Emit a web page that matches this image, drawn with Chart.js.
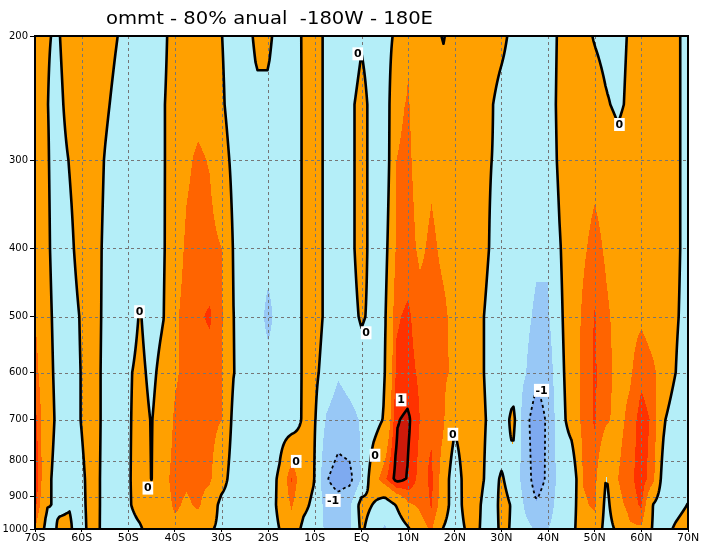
<!DOCTYPE html>
<html>
<head>
<meta charset="utf-8">
<script src="https://cdn.jsdelivr.net/npm/chart.js@4.4.0/dist/chart.umd.min.js"></script>
<style>
  html, body { margin: 0; padding: 0; background: #fff; }
</style>
</head>
<body>
<canvas id="chart" width="702" height="547"></canvas>
<script>
// titulo e eixos
const titleText = 'ommt - 80% anual  -180W - 180E';
const xTicks = [-70, -60, -50, -40, -30, -20, -10, 0, 10, 20, 30, 40, 50, 60, 70];
const xTickLabels = ['70S', '60S', '50S', '40S', '30S', '20S', '10S', 'EQ', '10N', '20N', '30N', '40N', '50N', '60N', '70N'];
const yTicks = [200, 300, 400, 500, 600, 700, 800, 900, 1000];

// grade: latitude (2.5 graus) x nivel de pressao
const lats = [-70, -67.5, -65, -62.5, -60, -57.5, -55, -52.5, -50, -47.5, -45, -42.5, -40, -37.5, -35, -32.5,
  -30, -27.5, -25, -22.5, -20, -17.5, -15, -12.5, -10, -7.5, -5, -2.5, 0, 2.5, 5, 7.5,
  10, 12.5, 15, 17.5, 20, 22.5, 25, 27.5, 30, 32.5, 35, 37.5, 40, 42.5, 45, 47.5,
  50, 52.5, 55, 57.5, 60, 62.5, 65, 67.5, 70];
const levels = [1000, 925, 850, 700, 600, 500, 400, 300, 250, 200];

const w1000 = [0.5, -0.15, 0.03, 0.03, -0.15, 0.225, -0.18, -0.3,
  -0.15, -0.05, 0.2, 0.3, 0.42, 0.35, 0.3, 0.05,
  -0.1, -0.3, -0.3, -0.3, -0.2, 0.01, 0.3, -0.1,
  -0.2, -0.6, -0.6, -0.55, 0.1, -0.3, -0.55, -0.3,
  -0.05, 0.35, 0.55, -0.02, -0.3, 0.05, 0.05, -0.3,
  0.1, -0.05, -0.35, -0.55, -0.5, -0.3, -0.2, 0.4,
  0.35, -0.2, 0.1, 0.45, 0.45, -0.05, -0.2, 0.1,
  0.3];
const w925 = [0.85, 0.02, -0.03, -0.01, -0.1, 0.2, -0.15, -0.3,
  -0.05, 0.15, 0.2, 0.35, 0.55, 0.45, 0.55, 0.3,
  -0.15, -0.2, -0.3, -0.3, -0.2, 0.1, 0.55, 0.1,
  -0.1, -0.7, -0.8, -0.55, 0.2, -0.02, -0.3, 0.02,
  0.45, 0.55, 0.78, 0.3, -0.3, 0.2, 0.1, -0.35,
  0.15, -0.05, -0.55, -0.95, -0.7, -0.3, -0.3, 0.45,
  0.55, -0.15, 0.4, 0.6, 0.8, -0.02, -0.3, -0.2,
  0.02];
const w850 = [1.02, 0.1, -0.15, -0.2, -0.08, 0.2, -0.15, -0.3,
  -0.05, 0.2, -0.01, 0.4, 0.6, 0.55, 0.6, 0.55,
  0.2, -0.2, -0.3, -0.3, -0.2, 0.08, 0.78, 0.2,
  0.005, -0.97, -1.2, -1.15, -0.45, 0.3, 0.7, 1.1,
  0.98, 0.65, 0.8, 0.35, -0.35, 0.25, 0.2, -0.2,
  0.05, -0.2, -0.7, -1.25, -0.9, -0.3, -0.4, 0.52,
  0.6, -0.03, 0.5, 0.68, 0.88, 0.6, -0.3, -0.3,
  -0.2];
const w700 = [0.85, 0.2, -0.1, -0.2, 0.02, 0.25, -0.15, -0.3,
  -0.05, 0.15, -0.02, 0.25, 0.55, 0.62, 0.62, 0.6,
  0.5, -0.1, -0.3, -0.3, -0.3, -0.2, -0.25, 0.05,
  0.03, -0.55, -0.75, -0.65, -0.45, -0.2, 0.05, 0.98,
  1.05, 0.75, 0.7, 0.55, 0.1, 0.3, 0.2, -0.1,
  -0.3, 0.15, -0.8, -1.3, -0.9, -0.2, 0.2, 0.6,
  0.78, 0.55, 0.4, 0.58, 0.87, 0.7, 0.02, -0.3,
  -0.3];
const w600 = [0.65, 0.15, -0.12, -0.2, 0.02, 0.25, -0.15, -0.3,
  -0.05, 0.1, -0.1, 0.15, 0.45, 0.6, 0.65, 0.65,
  0.5, 0.02, -0.2, -0.3, -0.35, -0.3, -0.3, 0.05,
  0.1, -0.2, -0.45, -0.3, -0.2, -0.3, -0.02, 0.8,
  0.85, 0.7, 0.62, 0.55, 0.45, 0.35, 0.15, -0.15,
  -0.3, -0.3, -0.45, -0.85, -0.75, -0.15, 0.25, 0.6,
  0.78, 0.6, 0.4, 0.45, 0.68, 0.55, 0.35, -0.02,
  -0.3];
const w500 = [0.5, 0.12, -0.15, -0.2, 0.05, 0.25, -0.12, -0.3,
  -0.2, 0.03, -0.2, -0.02, 0.45, 0.6, 0.72, 0.78,
  0.55, 0.01, -0.2, -0.3, -0.62, -0.3, -0.3, 0.05,
  0.2, -0.1, -0.3, -0.15, 0.05, -0.1, -0.05, 0.72,
  0.8, 0.6, 0.6, 0.55, 0.42, 0.4, 0.15, -0.15,
  -0.3, -0.3, -0.35, -0.6, -0.55, -0.1, 0.3, 0.55,
  0.77, 0.55, 0.4, 0.4, 0.45, 0.35, 0.3, 0.05,
  -0.2];
const w400 = [0.35, 0.08, -0.2, -0.1, 0.2, 0.25, -0.1, -0.3,
  -0.3, -0.3, -0.3, -0.05, 0.35, 0.55, 0.62, 0.6,
  0.5, -0.02, -0.3, -0.3, -0.35, -0.3, -0.3, 0.05,
  0.2, -0.1, -0.3, -0.1, 0.15, -0.15, -0.15, 0.55,
  0.6, 0.45, 0.55, 0.45, 0.4, 0.45, 0.3, -0.02,
  -0.3, -0.3, -0.3, -0.4, -0.45, -0.03, 0.3, 0.45,
  0.6, 0.45, 0.35, 0.35, 0.35, 0.35, 0.3, 0.1,
  -0.2];
const w300 = [0.3, 0.05, -0.2, 0.03, 0.25, 0.3, -0.03, -0.3,
  -0.3, -0.3, -0.3, -0.05, 0.3, 0.45, 0.55, 0.48,
  0.2, -0.1, -0.3, -0.3, -0.3, -0.3, -0.3, 0.05,
  0.2, -0.1, -0.3, -0.1, 0.15, -0.15, -0.3, 0.5,
  0.55, 0.38, 0.45, 0.38, 0.38, 0.38, 0.3, 0.02,
  -0.1, -0.3, -0.3, -0.3, -0.3, 0.1, 0.3, 0.35,
  0.4, 0.35, 0.2, 0.3, 0.3, 0.3, 0.3, 0.1,
  -0.2];
const w250 = [0.3, 0.02, -0.15, 0.2, 0.3, 0.3, 0.1, -0.15,
  -0.3, -0.3, -0.3, -0.05, 0.3, 0.4, 0.4, 0.35,
  0.07, -0.2, -0.3, -0.1, -0.1, -0.3, -0.3, 0.05,
  0.2, -0.1, -0.3, -0.1, 0.15, -0.15, -0.3, 0.45,
  0.52, 0.35, 0.35, 0.3, 0.35, 0.35, 0.3, 0.08,
  -0.2, -0.3, -0.3, -0.3, -0.3, 0.15, 0.3, 0.3,
  0.3, 0.05, -0.1, 0.1, 0.3, 0.3, 0.3, 0.1,
  -0.2];
const w200 = [0.3, 0.03, -0.05, 0.3, 0.3, 0.3, 0.25, 0.02,
  -0.2, -0.3, -0.3, -0.15, 0.3, 0.35, 0.35, 0.3,
  0.01, -0.2, -0.2, 0.1, 0.1, -0.2, -0.25, 0.05,
  0.2, -0.1, -0.3, -0.3, -0.05, -0.2, -0.2, 0.1,
  0.48, 0.3, 0.3, -0.05, 0.3, 0.3, 0.3, 0.3,
  0.15, -0.15, -0.3, -0.3, -0.3, 0.1, 0.3, 0.2,
  -0.05, -0.2, -0.15, 0.05, 0.3, 0.3, 0.3, 0.1,
  -0.2];
const rows = [w1000, w925, w850, w700, w600, w500, w400, w300, w250, w200];

// sombreamento e contornos
const shadeLevels = [-1, -0.5, 0, 0.5, 0.75, 1];
const shadeColors = ['#7eaaf0', '#98c8f6', '#b4eef8', '#ffa000', '#ff6400', '#ff3200', '#cd1a0a'];
const contourLevels = [-1, 0, 1];

// rotulos dos contornos
const labelText = ['0', '0', '0', '-1', '0', '0', '0', '1', '0', '-1', '0'];
const labelLat = [-47.6, -45.8, -14, -6.1, -0.8, 1.0, 2.9, 8.5, 19.6, 38.6, 55.3];
const labelP = [492, 875, 802, 911, 212, 527, 786, 656, 734, 636, 267];

function hexRgb(h) {
  return [parseInt(h.slice(1, 3), 16), parseInt(h.slice(3, 5), 16), parseInt(h.slice(5, 7), 16)];
}

function buildField(chart) {
  const { chartArea: a, scales: { x, y } } = chart;
  const W = Math.round(a.right - a.left), H = Math.round(a.bottom - a.top);
  const cx = lats.map(v => x.getPixelForValue(v) - a.left);
  const ry = levels.map(v => y.getPixelForValue(v) - a.top);
  const colIdx = new Int32Array(W), colT = new Float32Array(W);
  for (let i = 0, k = 0; i < W; i++) {
    const px = i + 0.5;
    while (k < cx.length - 2 && px > cx[k + 1]) k++;
    colIdx[i] = k;
    colT[i] = Math.min(1, Math.max(0, (px - cx[k]) / (cx[k + 1] - cx[k])));
  }
  const rowIdx = new Int32Array(H), rowT = new Float32Array(H);
  for (let j = 0; j < H; j++) {
    const py = j + 0.5;
    let k = 0;
    while (k < ry.length - 2 && py < ry[k + 1]) k++;
    rowIdx[j] = k;
    rowT[j] = Math.min(1, Math.max(0, (ry[k] - py) / (ry[k] - ry[k + 1])));
  }
  const F = new Float32Array(W * H);
  for (let j = 0; j < H; j++) {
    const r0 = rows[rowIdx[j]], r1 = rows[rowIdx[j] + 1], s = rowT[j];
    for (let i = 0; i < W; i++) {
      const k = colIdx[i], t = colT[i];
      const v0 = r0[k] + (r0[k + 1] - r0[k]) * t;
      const v1 = r1[k] + (r1[k + 1] - r1[k]) * t;
      F[j * W + i] = v0 + (v1 - v0) * s;
    }
  }
  return { F, W, H };
}

function contourChains(F, W, H, step, level) {
  const nx = Math.floor((W - 1) / step), ny = Math.floor((H - 1) / step);
  const val = (i, j) => F[(j * step) * W + i * step];
  const pts = new Map(), adj = new Map();
  const above = v => v > level;
  function edge(key, x0, y0, x1, y1, v0, v1) {
    if (!pts.has(key)) {
      const t = (level - v0) / (v1 - v0);
      pts.set(key, [x0 + (x1 - x0) * t, y0 + (y1 - y0) * t]);
    }
    return key;
  }
  function link(k1, k2) {
    if (!adj.has(k1)) adj.set(k1, []);
    if (!adj.has(k2)) adj.set(k2, []);
    adj.get(k1).push(k2);
    adj.get(k2).push(k1);
  }
  for (let j = 0; j < ny; j++) {
    for (let i = 0; i < nx; i++) {
      const a = val(i, j), b = val(i + 1, j), c = val(i + 1, j + 1), d = val(i, j + 1);
      const x0 = i * step, x1 = (i + 1) * step, y0 = j * step, y1 = (j + 1) * step;
      const crossing = [];
      let top = null, right = null, bottom = null, left = null;
      if (above(a) !== above(b)) { top = edge('h' + i + '_' + j, x0, y0, x1, y0, a, b); crossing.push(top); }
      if (above(b) !== above(c)) { right = edge('v' + (i + 1) + '_' + j, x1, y0, x1, y1, b, c); crossing.push(right); }
      if (above(d) !== above(c)) { bottom = edge('h' + i + '_' + (j + 1), x0, y1, x1, y1, d, c); crossing.push(bottom); }
      if (above(a) !== above(d)) { left = edge('v' + i + '_' + j, x0, y0, x0, y1, a, d); crossing.push(left); }
      if (crossing.length === 2) {
        link(crossing[0], crossing[1]);
      } else if (crossing.length === 4) {
        const center = (a + b + c + d) / 4;
        if (above(center) === above(a)) { link(top, right); link(bottom, left); }
        else { link(left, top); link(right, bottom); }
      }
    }
  }
  const used = new Set(), chains = [];
  const walk = start => {
    const chain = [start];
    used.add(start);
    let cur = start;
    for (;;) {
      const nb = adj.get(cur).find(k => !used.has(k));
      if (!nb) break;
      used.add(nb);
      chain.push(nb);
      cur = nb;
    }
    if (chain.length > 2 && adj.get(cur).includes(start)) chain.push(start);
    return chain.map(k => pts.get(k));
  };
  for (const [k, nbs] of adj) if (nbs.length === 1 && !used.has(k)) chains.push(walk(k));
  for (const k of adj.keys()) if (!used.has(k)) chains.push(walk(k));
  return chains;
}

const fieldPlugin = {
  id: 'field',
  beforeDatasetsDraw(chart) {
    const { ctx, chartArea: a, scales: { x, y } } = chart;
    const { F, W, H } = buildField(chart);

    // sombreado
    const off = document.createElement('canvas');
    off.width = W; off.height = H;
    const octx = off.getContext('2d');
    const img = octx.createImageData(W, H);
    const rgb = shadeColors.map(hexRgb);
    for (let p = 0; p < W * H; p++) {
      const v = F[p];
      let c = 0;
      while (c < shadeLevels.length && v > shadeLevels[c]) c++;
      img.data[p * 4] = rgb[c][0];
      img.data[p * 4 + 1] = rgb[c][1];
      img.data[p * 4 + 2] = rgb[c][2];
      img.data[p * 4 + 3] = 255;
    }
    octx.putImageData(img, 0, 0);
    ctx.save();
    ctx.drawImage(off, a.left, a.top);

    // grade pontilhada
    ctx.lineWidth = 1;
    ctx.strokeStyle = '#767676';
    ctx.setLineDash([3, 3]);
    ctx.beginPath();
    xTicks.slice(1, -1).forEach(v => {
      const px = Math.round(x.getPixelForValue(v)) + 0.5;
      ctx.moveTo(px, a.top); ctx.lineTo(px, a.bottom);
    });
    yTicks.slice(1, -1).forEach(v => {
      const py = Math.round(y.getPixelForValue(v)) + 0.5;
      ctx.moveTo(a.left, py); ctx.lineTo(a.right, py);
    });
    ctx.stroke();

    // contornos
    ctx.beginPath();
    ctx.rect(a.left, a.top, a.right - a.left, a.bottom - a.top);
    ctx.clip();
    ctx.lineJoin = 'round';
    ctx.strokeStyle = '#000';
    contourLevels.forEach(lv => {
      const chains = contourChains(F, W, H, 2, lv);
      if (lv < 0) { ctx.setLineDash([3, 3]); ctx.lineWidth = 1.8; ctx.lineCap = 'butt'; }
      else { ctx.setLineDash([]); ctx.lineWidth = 2.6; ctx.lineCap = 'round'; }
      chains.forEach(ch => {
        ctx.beginPath();
        ch.forEach((pt, i) => {
          const px = a.left + pt[0] + 0.5, py = a.top + pt[1] + 0.5;
          if (i === 0) ctx.moveTo(px, py); else ctx.lineTo(px, py);
        });
        ctx.stroke();
      });
    });
    ctx.setLineDash([]);

    // rotulos
    ctx.font = 'bold 11px "DejaVu Sans"';
    ctx.textAlign = 'center';
    ctx.textBaseline = 'middle';
    labelText.forEach((txt, i) => {
      const px = x.getPixelForValue(labelLat[i]);
      const py = y.getPixelForValue(labelP[i]);
      const w = ctx.measureText(txt).width + 3;
      ctx.fillStyle = '#fff';
      ctx.fillRect(px - w / 2, py - 6.5, w, 13);
      ctx.fillStyle = '#000';
      ctx.fillText(txt, px, py + 0.5);
    });
    ctx.restore();

    // moldura
    ctx.save();
    ctx.lineWidth = 2;
    ctx.strokeStyle = '#000';
    ctx.strokeRect(a.left, a.top, a.right - a.left, a.bottom - a.top);
    ctx.restore();
  },
  afterDraw(chart) {
    const ctx = chart.ctx;
    ctx.save();
    ctx.font = '17px "DejaVu Sans"';
    ctx.fillStyle = '#000';
    ctx.textBaseline = 'alphabetic';
    const w = ctx.measureText(titleText).width;
    ctx.translate(106, 24);
    ctx.scale(327 / w, 1);
    ctx.fillText(titleText, 0, 0);
    ctx.restore();
  }
};

new Chart(document.getElementById('chart'), {
  type: 'scatter',
  data: { datasets: [] },
  options: {
    responsive: false,
    animation: false,
    layout: { padding: { top: 36, right: 14, left: 0, bottom: 0 } },
    plugins: { legend: { display: false }, tooltip: { enabled: false }, title: { display: false } },
    scales: {
      x: {
        type: 'linear',
        min: -70,
        max: 70,
        afterBuildTicks: s => { s.ticks = xTicks.map(v => ({ value: v })); },
        afterFit: s => { s.height = 18; },
        border: { display: false },
        grid: { drawOnChartArea: false, drawTicks: true, tickLength: 3, tickColor: '#000', color: '#000' },
        ticks: {
          autoSkip: false, maxRotation: 0, minRotation: 0, padding: 0, color: '#000',
          font: { family: 'DejaVu Sans', size: 11 },
          callback: v => xTickLabels[xTicks.indexOf(v)]
        }
      },
      y: {
        type: 'logarithmic',
        reverse: true,
        min: 200,
        max: 1000,
        afterBuildTicks: s => { s.ticks = yTicks.map(v => ({ value: v })); },
        afterFit: s => { s.width = 35; },
        border: { display: false },
        grid: { drawOnChartArea: false, drawTicks: true, tickLength: 5, tickColor: '#000', color: '#000' },
        ticks: {
          autoSkip: false, padding: 2, color: '#000',
          font: { family: 'DejaVu Sans', size: 10 },
          callback: v => String(v)
        }
      }
    }
  },
  plugins: [fieldPlugin]
});
</script>
</body>
</html>
